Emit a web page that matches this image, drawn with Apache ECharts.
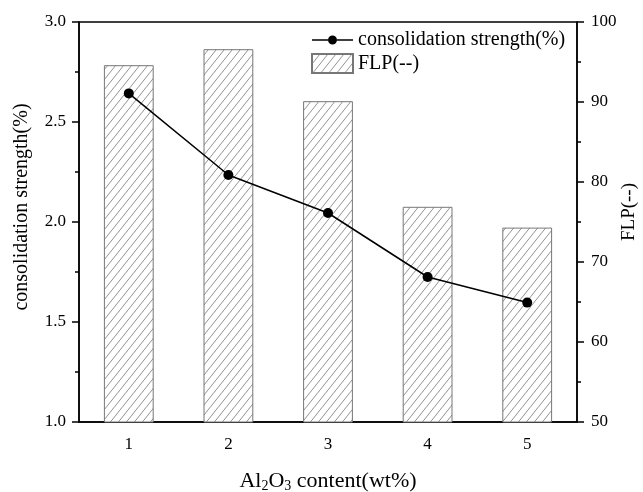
<!DOCTYPE html>
<html lang="en">
<head>
  <meta charset="UTF-8" />
  <title>consolidation strength / FLP</title>
  <script src="https://cdn.jsdelivr.net/npm/echarts@6/dist/echarts.min.js"></script>
  <style>
    body { margin: 0; background: #fff; }
    #main { width: 643px; height: 492px; }
  </style>
</head>
<body>
  <div id="main"></div>
  <script>
    const categories = ["1", "2", "3", "4", "5"];
    const strength = [2.643, 2.235, 2.045, 1.725, 1.597];
    const flp = [94.6, 96.6, 90.1, 76.9, 74.3];

    const serif = "Liberation Serif";

    // diagonal hatch for the bars
    function hatch() {
      const w = 8, h = 10;
      const c = document.createElement("canvas");
      c.width = w;
      c.height = h;
      const ctx = c.getContext("2d");
      ctx.fillStyle = "#fff";
      ctx.fillRect(0, 0, w, h);
      ctx.strokeStyle = "#777";
      ctx.lineWidth = 0.8;
      ctx.beginPath();
      ctx.moveTo(-w, 2 * h); ctx.lineTo(2 * w, -h);
      ctx.moveTo(-2 * w, 2 * h); ctx.lineTo(w, -h);
      ctx.moveTo(0, 2 * h); ctx.lineTo(3 * w, -h);
      ctx.stroke();
      return c;
    }

    // line + dot legend icon
    const lineIcon = "path://M0,3.75L16,3.75L16,5.25L0,5.25Z" +
      "M25,3.75L41,3.75L41,5.25L25,5.25Z" +
      "M16,4.5A4.5,4.5,0,1,1,25,4.5A4.5,4.5,0,1,1,16,4.5Z";

    const chart = echarts.init(document.getElementById("main"));
    const axisLine = { show: true, lineStyle: { color: "#000", width: 1.5 } };
    const labelStyle = { color: "#000", fontFamily: serif, fontSize: 17 };

    chart.setOption({
      animation: false,
      textStyle: { fontFamily: serif },
      grid: {
        left: 79, right: 66, top: 22, bottom: 70,
        outerBoundsMode: "none",
        show: true, borderColor: "#000", borderWidth: 1.5
      },
      legend: {
        orient: "vertical",
        left: 311,
        top: 30,
        itemGap: 3,
        itemWidth: 41,
        itemHeight: 19,
        padding: 0,
        textStyle: { color: "#000", fontFamily: serif, fontSize: 20 },
        data: [
          { name: "consolidation strength(%)", icon: lineIcon },
          { name: "FLP(--)", icon: "rect" }
        ]
      },
      xAxis: [
        {
          type: "category",
          data: categories,
          axisLine: axisLine,
          axisTick: { alignWithLabel: true, length: 7, lineStyle: { color: "#000", width: 1.5 } },
          axisLabel: Object.assign({ margin: 14 }, labelStyle),
          name: "{n|Al}{s|2}{n|O}{s|3}{n| content(wt%)}",
          nameLocation: "middle",
          nameGap: 47,
          nameTextStyle: {
            rich: {
              n: { fontFamily: serif, fontSize: 22, color: "#000" },
              s: { fontFamily: serif, fontSize: 14, color: "#000", verticalAlign: "bottom", padding: [10, 0, 0, 0] }
            }
          }
        },
        {
          type: "category",
          data: categories,
          position: "bottom",
          axisLine: { show: false },
          axisTick: { length: 4, lineStyle: { color: "#000", width: 1.5 } },
          axisLabel: { show: false }
        }
      ],
      yAxis: [
        {
          type: "value",
          min: 1.0,
          max: 3.0,
          interval: 0.5,
          axisLine: axisLine,
          axisTick: { show: true, length: 7, lineStyle: { color: "#000", width: 1.5 } },
          minorTick: { show: true, splitNumber: 2, length: 4, lineStyle: { color: "#000", width: 1.5 } },
          splitLine: { show: false },
          axisLabel: Object.assign({ margin: 13, formatter: v => v.toFixed(1) }, labelStyle),
          name: "consolidation strength(%)",
          nameLocation: "middle",
          nameGap: 47,
          nameTextStyle: { color: "#000", fontFamily: serif, fontSize: 20, padding: [0, 0, 0, 30] }
        },
        {
          type: "value",
          min: 50,
          max: 100,
          interval: 10,
          position: "right",
          axisLine: axisLine,
          axisTick: { show: true, length: 7, lineStyle: { color: "#000", width: 1.5 } },
          minorTick: { show: true, splitNumber: 2, length: 4, lineStyle: { color: "#000", width: 1.5 } },
          splitLine: { show: false },
          axisLabel: Object.assign({ margin: 14 }, labelStyle),
          name: "FLP(--)",
          nameLocation: "middle",
          nameGap: 43,
          nameMoveOverlap: false,
          nameRotate: 90,
          nameTextStyle: { color: "#000", fontFamily: serif, fontSize: 19, padding: [0, 0, 0, 20] }
        }
      ],
      series: [
        {
          name: "FLP(--)",
          type: "bar",
          yAxisIndex: 1,
          barWidth: "50%",
          data: flp,
          itemStyle: {
            color: { image: hatch(), repeat: "repeat" },
            borderColor: "#777",
            borderWidth: 1
          },
          z: 1
        },
        {
          name: "consolidation strength(%)",
          type: "line",
          yAxisIndex: 0,
          data: strength,
          symbol: "circle",
          symbolSize: 10,
          itemStyle: { color: "#000" },
          lineStyle: { color: "#000", width: 1.5 },
          z: 3
        }
      ]
    });
  </script>
</body>
</html>
